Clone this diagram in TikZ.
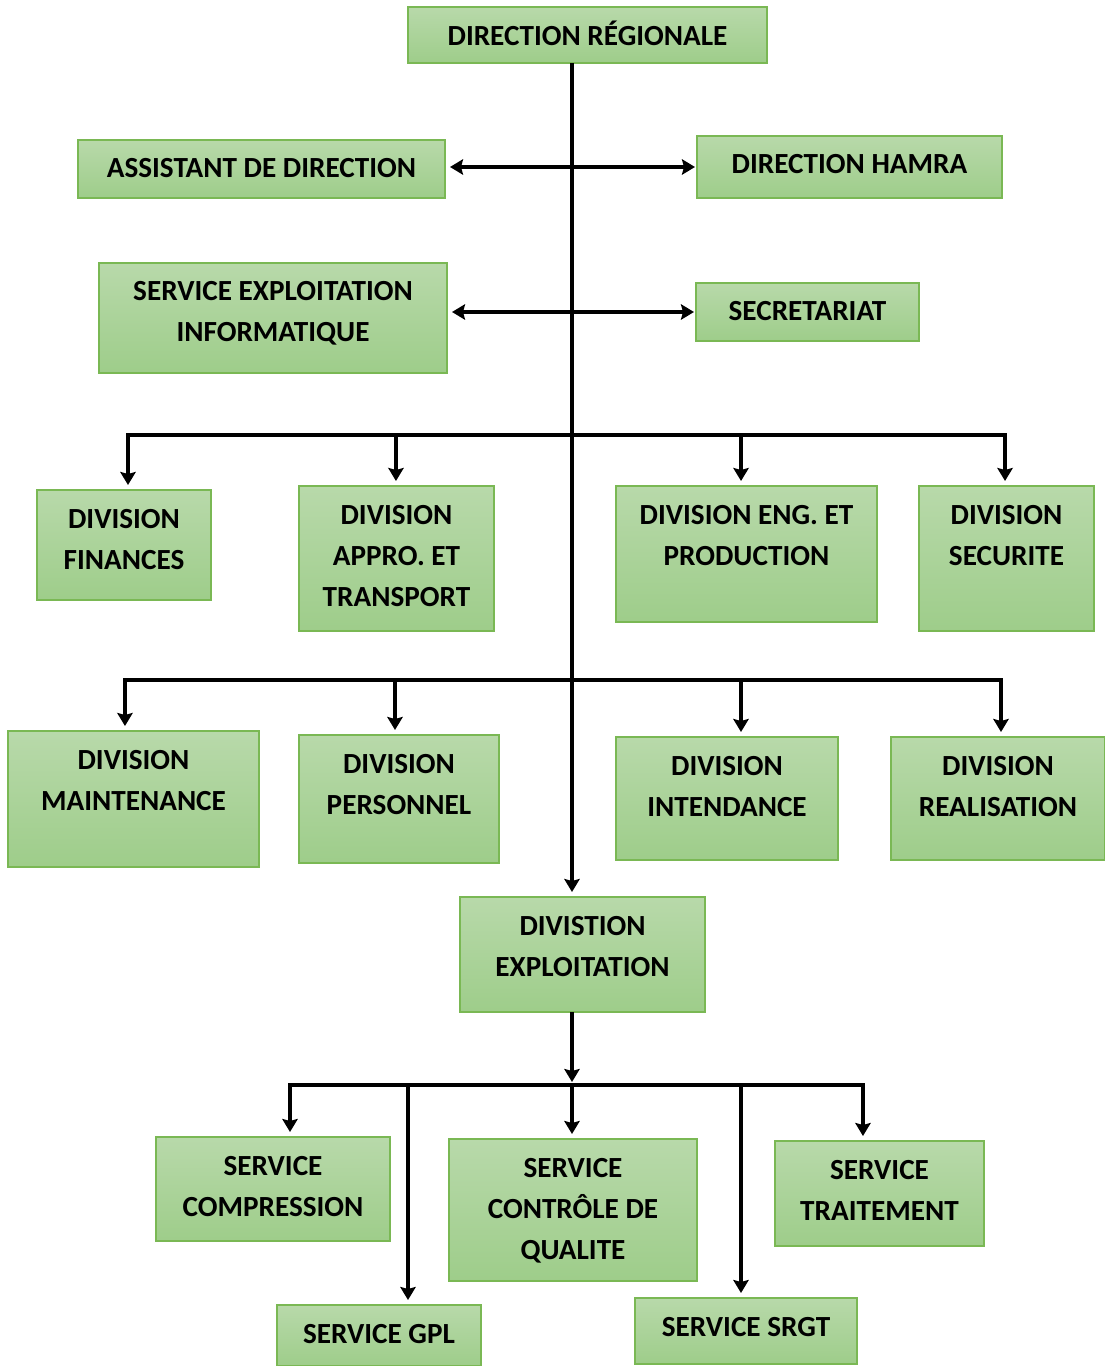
\documentclass[tikz,border=0pt]{standalone}
\usepackage{fontspec}
\setmainfont{Carlito}
\usetikzlibrary{arrows.meta,calc}
\newdimen\px \px=0.75pt
\definecolor{gtop}{RGB}{184,217,170}
\definecolor{gbot}{RGB}{158,205,138}
\definecolor{gedge}{RGB}{122,184,84}
\tikzset{
  box/.style={draw=gedge, line width=1.125pt, top color=gtop, bottom color=gbot,
    inner sep=0pt, outer sep=0pt,
    font=\fontsize{21.9pt}{30.75pt}\selectfont\bfseries},
  conn/.style={line width=2.8pt, line join=miter},
  tip/.tip={Stealth[length=9.75pt,width=11.5pt,inset=1.5pt]},
  arr/.style={conn, -tip, shorten >=3.75pt},
  darr/.style={conn, tip-tip, shorten >=1.5pt, shorten <=3.75pt}
}
\newcommand\obox[7][38]{%
  \pgfmathsetlengthmacro\bw{(#5-#3)*0.75pt}%
  \pgfmathsetlengthmacro\bh{(#6-#4)*0.75pt}%
  \node[box] (#2) at ({(#3+#5)/2},{(#4+#6)/2})
    {\parbox[c][\bh][t]{\bw}{\centering\rule{0pt}{#1\px}#7}};}
\begin{document}
\begin{tikzpicture}[x=0.75pt,y=-0.75pt]
\useasboundingbox (0,0) rectangle (1105,1366);
% boxes
\obox[39]{dr}{408}{7}{767}{63}{DIRECTION RÉGIONALE}
\obox[37]{ad}{78}{140}{445}{198}{ASSISTANT DE DIRECTION}
\obox[37]{dh}{697}{136}{1002}{198}{DIRECTION HAMRA}
\obox[37]{sei}{99}{263}{447}{373}{SERVICE EXPLOITATION\\INFORMATIQUE}
\obox[37]{sec}{696}{283}{919}{341}{SECRETARIAT}
\obox{fin}{37}{490}{211}{600}{DIVISION\\FINANCES}
\obox{ap}{299}{486}{494}{631}{DIVISION\\APPRO. ET\\TRANSPORT}
\obox{eng}{616}{486}{877}{622}{DIVISION ENG. ET\\PRODUCTION}
\obox{secu}{919}{486}{1094}{631}{DIVISION\\SECURITE}
\obox{maint}{8}{731}{259}{867}{DIVISION\\MAINTENANCE}
\obox{pers}{299}{735}{499}{863}{DIVISION\\PERSONNEL}
\obox{int}{616}{737}{838}{860}{DIVISION\\INTENDANCE}
\obox{real}{891}{737}{1105}{860}{DIVISION\\REALISATION}
\obox{de}{460}{897}{705}{1012}{DIVISTION\\EXPLOITATION}
\obox{comp}{156}{1137}{390}{1241}{SERVICE\\COMPRESSION}
\obox{cq}{449}{1139}{697}{1281}{SERVICE\\CONTRÔLE DE\\QUALITE}
\obox{trait}{775}{1141}{984}{1246}{SERVICE\\TRAITEMENT}
\obox{gpl}{277}{1305}{481}{1366}{SERVICE GPL}
\obox{srgt}{635}{1298}{857}{1364}{SERVICE SRGT}
% levels
\coordinate (tx) at (572,0);
\coordinate (b1) at (0,435);
\coordinate (b2) at (0,680);
\coordinate (b3) at (0,1085);
% trunk
\draw[arr] (dr.south -| tx) -- (de.north -| tx);
\draw[darr] (dh.west -| ad.east) -- (dh.west);
\draw[darr] (sec.west -| sei.east) -- (sec.west);
% bus 1
\draw[arr] (tx |- b1) -| ([xshift=3pt]fin.north);
\draw[arr] (tx |- b1) -| ([xshift=-0.4pt]ap.north);
\draw[arr] (tx |- b1) -| ([xshift=-4.1pt]eng.north);
\draw[arr] (tx |- b1) -| ([xshift=-1.1pt]secu.north);
% bus 2
\draw[arr] (tx |- b2) -| ([xshift=-6.4pt]maint.north);
\draw[arr] (tx |- b2) -| ([xshift=-3pt]pers.north);
\draw[arr] (tx |- b2) -| ([xshift=10.5pt]int.north);
\draw[arr] (tx |- b2) -| ([xshift=2.25pt]real.north);
% bus 3
\draw[arr, shorten >=2.25pt] (de.south -| tx) -- (tx |- b3);
\draw[arr] (tx |- b3) -| ([xshift=12.75pt]comp.north);
\draw[arr] (tx |- b3) -| ([xshift=21.75pt]gpl.north);
\draw[arr] (tx |- b3) -- (tx |- cq.north);
\draw[arr] (tx |- b3) -| ([xshift=-3.75pt]srgt.north);
\draw[arr] (tx |- b3) -| ([xshift=-12.4pt]trait.north);
\end{tikzpicture}
\end{document}
